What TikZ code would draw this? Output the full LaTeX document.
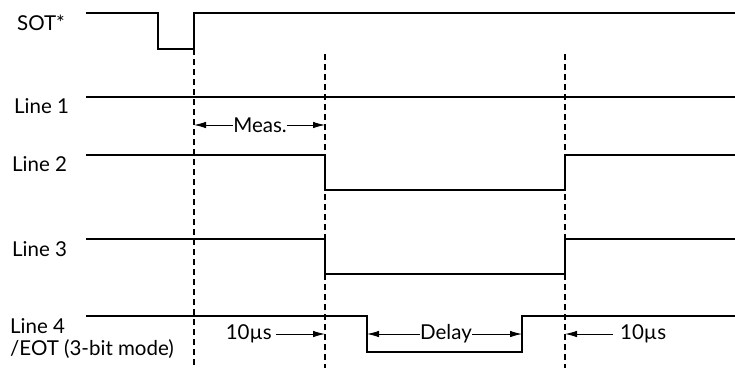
\documentclass[tikz,border=0pt]{standalone}
\usepackage{fontspec}
\setmainfont{Lato}
\usetikzlibrary{arrows.meta,positioning}

\begin{document}
\begin{tikzpicture}[x=1pt,y=-1pt,
  wave/.style={line width=1.6pt, line join=miter},
  guide/.style={line width=1.4pt, dash pattern=on 6pt off 4pt},
  sig/.style={font=\fontsize{20.5}{22.5}\selectfont, anchor=west, inner sep=0pt, align=left},
  dimtxt/.style={font=\fontsize{20.5}{22.5}\selectfont, inner sep=0pt},
  dimarr/.style={-{Latex[length=12pt,width=6.5pt]}, line width=0.9pt}]
\useasboundingbox (0,0) rectangle (735,368);
% signal names
\node[sig] (sot) at (17,23) {SOT*};
\node[sig] (l1) at (14,106) {Line 1};
\node[sig] (l2) at (12,164) {Line 2};
\node[sig] (l3) at (12,249) {Line 3};
\node[sig, anchor=north west] (l4) at (10,318) {Line 4\\/EOT (3-bit mode)};
% waveforms
\draw[wave] (86,13) -- (158,13) -- (158,49) -- (194,49) -- (194,13) -- (735,13);
\draw[wave] (86,97) -- (735,97);
\foreach \y in {155,239} {
  \draw[wave] (86,\y) -- (325,\y) -- (325,\y+35) -- (565,\y+35) -- (565,\y) -- (735,\y);
}
\draw[wave] (86,316) -- (367,316) -- (367,352) -- (522,352) -- (522,316) -- (735,316);
% timing marks
\coordinate (t0) at (194,49);
\coordinate (t1) at (325,54);
\coordinate (t2) at (565,54);
\foreach \t in {t0,t1,t2} {
  \draw[guide] (\t) -- (\t |- 0,368);
}
% Meas.
\node[dimtxt] (meas) at (260,125) {Meas.};
\draw[dimarr] (meas.west) -- (t0 |- meas.west);
\draw[dimarr] (meas.east) -- (t1 |- meas.east);
% 10us after measurement
\node[dimtxt, anchor=east] (us1) at (272,334) {10µs};
\draw[dimarr] ([xshift=4pt]us1.east) -- (t1 |- us1.east);
% Delay
\coordinate (d0) at (367,334);
\coordinate (d1) at (522,334);
\node[dimtxt] (delay) at (446,334) {Delay};
\draw[dimarr] (delay.west) -- (d0);
\draw[dimarr] (delay.east) -- (d1);
% 10us after delay
\node[dimtxt, anchor=west] (us2) at (620,334) {10µs};
\draw[dimarr] ([xshift=-7pt]us2.west) -- (t2 |- us2.west);
\end{tikzpicture}
\end{document}
